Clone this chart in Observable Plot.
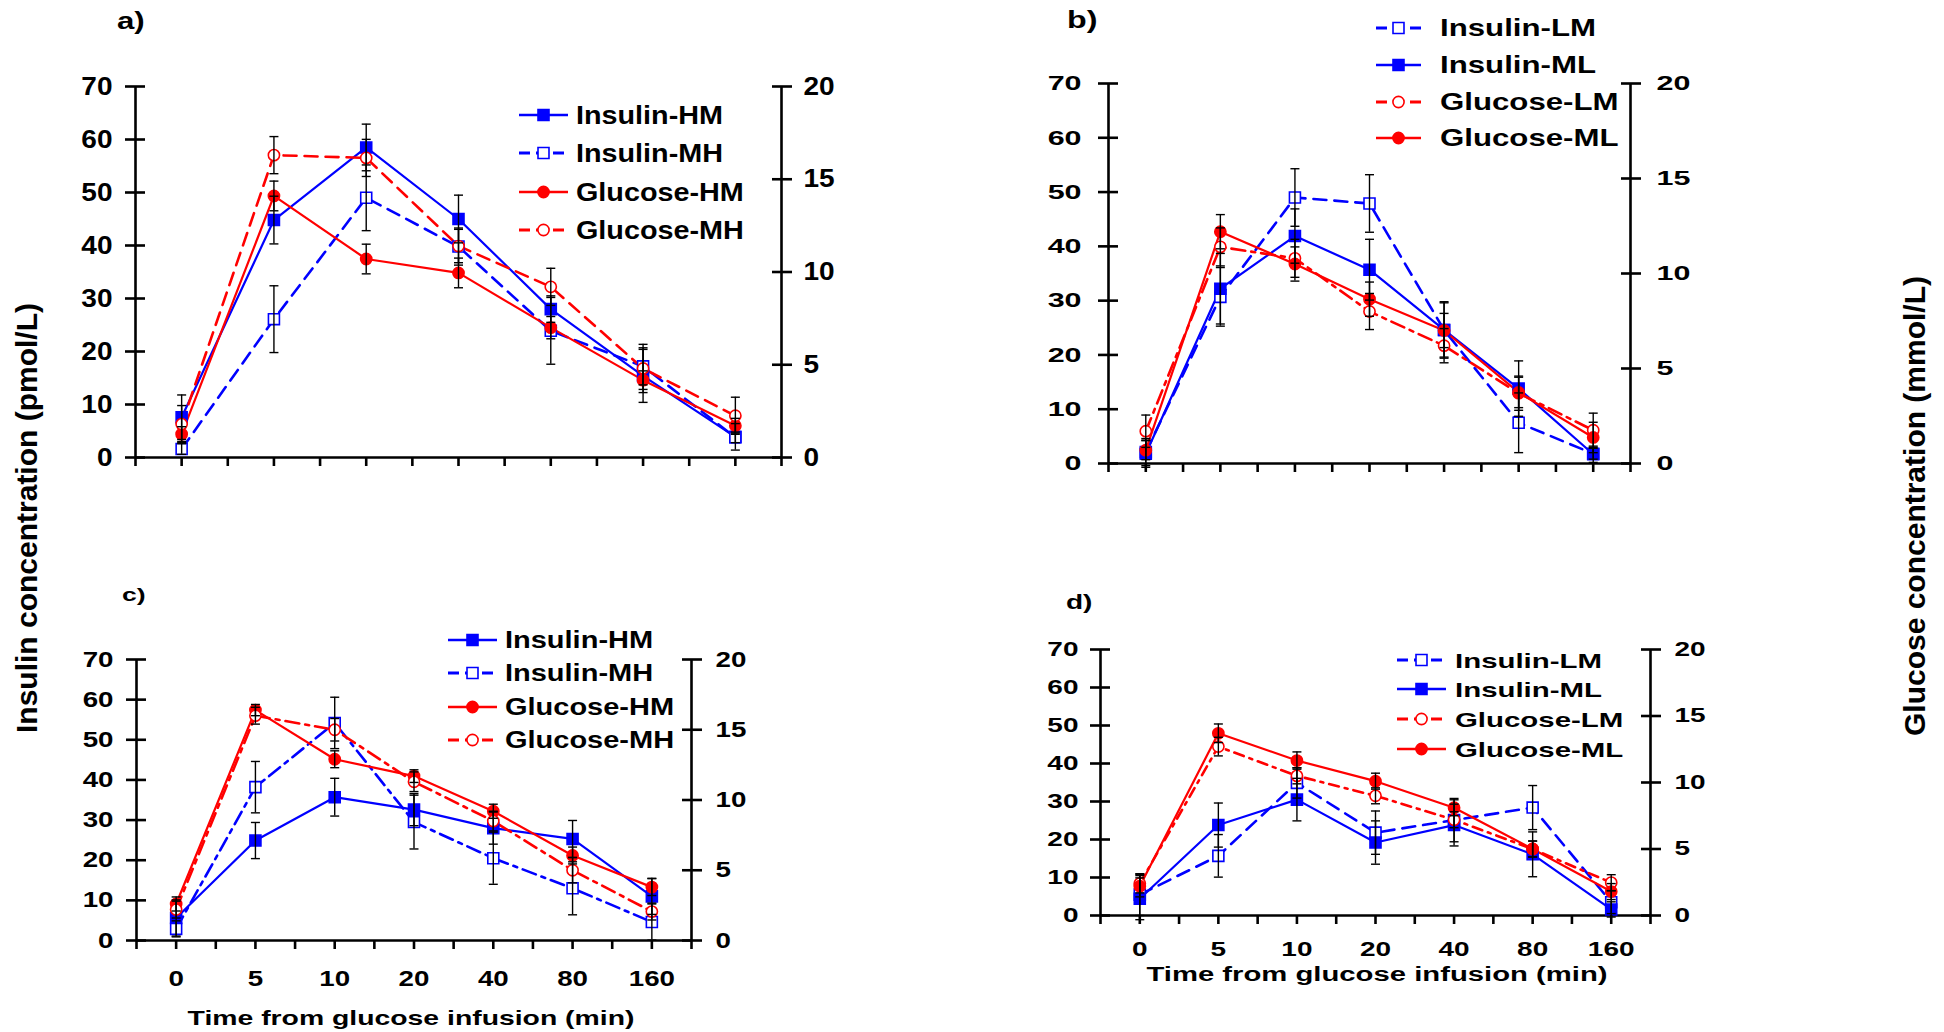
<!DOCTYPE html>
<html><head><meta charset="utf-8">
<script src="https://cdn.jsdelivr.net/npm/d3@7"></script>
<script src="https://cdn.jsdelivr.net/npm/@observablehq/plot@0.6"></script>
<style>
html,body{margin:0;padding:0;background:#fff;}
#root{position:relative;width:1944px;height:1032px;overflow:hidden;font-family:"Liberation Sans",Arial,sans-serif;font-weight:bold;color:#000;background:#fff;}
.abs{position:absolute;white-space:nowrap;line-height:1;}
svg{overflow:visible;}
</style></head><body><div id="root"></div>
<script>
// ---------- categories ----------
const times = ["0","5","10","20","40","80","160"];
const insulinTicks = [0,10,20,30,40,50,60,70];
const glucoseTicks = [0,5,10,15,20];
const xTitle = "Time from glucose infusion (min)";
const yTitleLeft = "Insulin concentration (pmol/L)";
const yTitleRight = "Glucose concentration (mmol/L)";

// ---------- panel a ----------
const aInsulinHM   = [7.6, 44.8, 58.5, 45.0, 28.0, 15.4, 3.9];
const aInsulinHMse = [4.2, 4.5, 4.4, 4.5, 2.5, 5.0, 2.5];
const aInsulinMH   = [1.6, 26.1, 49.0, 39.8, 23.9, 17.2, 3.8];
const aInsulinMHse = [1.0, 6.3, 6.2, 3.5, 6.3, 3.5, 1.0];
const aGlucoseHM   = [1.26, 14.1, 10.7, 9.95, 7.0, 4.17, 1.71];
const aGlucoseHMse = [0.4, 0.8, 0.8, 0.8, 0.6, 0.5, 0.4];
const aGlucoseMH   = [1.8, 16.3, 16.15, 11.4, 9.2, 4.8, 2.25];
const aGlucoseMHse = [1.0, 1.0, 1.0, 0.9, 1.0, 1.3, 1.0];

// ---------- panel b ----------
const bInsulinLM   = [2.1, 30.7, 49.0, 47.9, 24.6, 7.5, 1.8];
const bInsulinLMse = [2.5, 5.4, 5.3, 5.3, 5.2, 5.5, 1.0];
const bInsulinML   = [1.8, 32.2, 41.9, 35.7, 24.6, 13.8, 1.7];
const bInsulinMLse = [2.5, 6.5, 5.0, 5.6, 5.0, 5.1, 1.5];
const bGlucoseLM   = [1.7, 11.4, 10.8, 8.0, 6.2, 3.7, 1.75];
const bGlucoseLMse = [0.85, 1.0, 1.0, 0.95, 0.9, 0.9, 0.9];
const bGlucoseML   = [0.7, 12.2, 10.5, 8.65, 7.0, 3.74, 1.37];
const bGlucoseMLse = [0.5, 0.9, 0.9, 0.9, 0.9, 0.8, 0.8];

// ---------- panel c ----------
const cInsulinHM   = [5.6, 24.9, 35.7, 32.6, 28.0, 25.3, 11.0];
const cInsulinHMse = [4.5, 4.5, 4.7, 4.0, 4.0, 4.6, 4.5];
const cInsulinMH   = [2.9, 38.2, 54.2, 29.5, 20.5, 13.0, 4.6];
const cInsulinMHse = [2.0, 6.4, 6.4, 6.7, 6.5, 6.6, 4.5];
const cGlucoseHM   = [2.6, 16.4, 12.9, 11.7, 9.2, 6.05, 3.8];
const cGlucoseHMse = [0.5, 0.4, 0.6, 0.45, 0.5, 0.6, 0.6];
const cGlucoseMH   = [2.2, 16.0, 15.0, 11.3, 8.5, 5.0, 2.06];
const cGlucoseMHse = [0.6, 0.6, 0.8, 0.7, 0.7, 0.9, 0.6];

// ---------- panel d ----------
const dInsulinLM   = [5.5, 15.7, 34.9, 21.8, 25.1, 28.4, 3.5];
const dInsulinLMse = [5.5, 5.6, 4.0, 5.7, 5.7, 5.8, 3.0];
const dInsulinML   = [4.4, 23.8, 30.5, 19.2, 23.8, 16.1, 1.6];
const dInsulinMLse = [5.5, 5.8, 5.6, 5.7, 5.5, 5.9, 2.0];
const dGlucoseLM   = [2.4, 12.7, 10.5, 9.0, 7.2, 5.0, 2.47];
const dGlucoseLMse = [0.7, 0.7, 0.6, 0.6, 0.6, 0.6, 0.6];
const dGlucoseML   = [2.2, 13.7, 11.65, 10.1, 8.1, 5.0, 1.8];
const dGlucoseMLse = [0.8, 0.7, 0.65, 0.6, 0.6, 0.6, 0.6];

// ---------- styles ----------
const BLUE = "#0000ff", RED = "#ff0000";
const DASH = "13,8", DASHDOT = "14,6,4,6";
const GLU_K = 70 / 20; // glucose axis 0-20 mapped onto insulin axis 0-70

function S(name, kind, values, se, filled, dash){
  return {name, kind, values, se, filled, dash};
}

const panels = [
  {L:135, R:781, T:86, B:457, showX:false,
   tick:{size:25, sx:1.12, padL:13, padR:12}, 
   label:{text:"a)", x:117, base:29, size:24, sx:1.3},
   legend:{x0:519, x1:568, tx:576, rows:[115,153,192,230], size:25, sx:1.15},
   series:[
     S("Insulin-HM","insulin",aInsulinHM,aInsulinHMse,true,null),
     S("Insulin-MH","insulin",aInsulinMH,aInsulinMHse,false,DASH),
     S("Glucose-HM","glucose",aGlucoseHM,aGlucoseHMse,true,null),
     S("Glucose-MH","glucose",aGlucoseMH,aGlucoseMHse,false,DASH)]},
  {L:1108, R:1630, T:83, B:463, showX:false,
   tick:{size:21, sx:1.45, padL:17, padR:16},
   label:{text:"b)", x:1067, base:28, size:23, sx:1.4},
   legend:{x0:1376, x1:1421, tx:1440, rows:[28,65,102,138], size:24, sx:1.3},
   series:[
     S("Insulin-LM","insulin",bInsulinLM,bInsulinLMse,false,DASH),
     S("Insulin-ML","insulin",bInsulinML,bInsulinMLse,true,null),
     S("Glucose-LM","glucose",bGlucoseLM,bGlucoseLMse,false,DASHDOT),
     S("Glucose-ML","glucose",bGlucoseML,bGlucoseMLse,true,null)]},
  {L:136, R:691, T:659, B:940, showX:true, xPad:21,
   tick:{size:22, sx:1.26, padL:13, padR:14},
   label:{text:"c)", x:122, base:601, size:19, sx:1.4},
   legend:{x0:448, x1:497, tx:505, rows:[640,673,707,740], size:23, sx:1.26},
   xTitle:{x:411, y:1017, size:21, sx:1.35},
   series:[
     S("Insulin-HM","insulin",cInsulinHM,cInsulinHMse,true,null),
     S("Insulin-MH","insulin",cInsulinMH,cInsulinMHse,false,DASHDOT),
     S("Glucose-HM","glucose",cGlucoseHM,cGlucoseHMse,true,null),
     S("Glucose-MH","glucose",cGlucoseMH,cGlucoseMHse,false,DASHDOT)]},
  {L:1100, R:1650, T:649, B:915, showX:true, xPad:17,
   tick:{size:20, sx:1.4, padL:12, padR:14},
   label:{text:"d)", x:1066, base:609, size:20, sx:1.4},
   legend:{x0:1397, x1:1446, tx:1455, rows:[660,689,719,749], size:21, sx:1.4},
   xTitle:{x:1377, y:975, size:19.5, sx:1.5},
   series:[
     S("Insulin-LM","insulin",dInsulinLM,dInsulinLMse,false,DASH),
     S("Insulin-ML","insulin",dInsulinML,dInsulinMLse,true,null),
     S("Glucose-LM","glucose",dGlucoseLM,dGlucoseLMse,false,"10,6,3,6"),
     S("Glucose-ML","glucose",dGlucoseML,dGlucoseMLse,true,null)]}
];

const root = document.getElementById("root");
const capSymbol = {draw(ctx, size){ const r = Math.sqrt(size / Math.PI); ctx.moveTo(-r, 0); ctx.lineTo(r, 0); }};

// widen SVG texts horizontally around their anchor, keeping Plot's own transform
function stretchTexts(el, sx){
  el.querySelectorAll("text").forEach(t => {
    if (!t.textContent) return;
    const a = getComputedStyle(t).textAnchor;
    const bb = t.getBBox();
    const ox = a === "end" ? bb.x + bb.width : a === "middle" ? bb.x + bb.width / 2 : bb.x;
    const orig = t.getAttribute("transform") || "";
    t.setAttribute("transform", `${orig} translate(${ox},0) scale(${sx},1) translate(${-ox},0)`);
  });
}

function addText(text, {x, y, size, sx = 1, anchor = "start", base = null}){
  const d = document.createElement("div");
  d.className = "abs";
  d.textContent = text;
  d.style.fontSize = size + "px";
  d.style.left = x + "px";
  const top = base != null ? base - 0.8465 * size : y - 0.488 * size;
  d.style.top = top + "px";
  const tx = anchor === "middle" ? "translateX(-50%) " : "";
  d.style.transformOrigin = anchor === "middle" ? "50% 50%" : "0% 50%";
  d.style.transform = `${tx}scaleX(${sx})`;
  root.appendChild(d);
  return d;
}

function colorOf(s){ return s.kind === "glucose" ? RED : BLUE; }
function symbolOf(s){ return s.kind === "glucose" ? "circle" : "square"; }
function rOf(s){ return s.kind === "glucose" ? 5.6 : 6.2; }

function drawPanel(p){
  const mL = 150, mR = 150, mT = 30, mB = 70;
  const width = (p.R - p.L) + mL + mR;
  const height = (p.B - p.T) + mT + mB;
  const marks = [];
  marks.push(Plot.ruleX([-0.5, 6.5], {stroke: "black", strokeWidth: 2.6}));
  marks.push(Plot.ruleY([0], {stroke: "black", strokeWidth: 2.6}));
  const allData = p.series.map(s => {
    const k = s.kind === "glucose" ? GLU_K : 1;
    return s.values.map((v, i) => ({i, v: v * k, lo: (v - s.se[i]) * k, hi: (v + s.se[i]) * k}));
  });
  p.series.forEach((s, j) => {
    marks.push(Plot.line(allData[j], {x: "i", y: "v", stroke: colorOf(s), strokeWidth: s.dash ? 2.6 : 2.2,
      strokeDasharray: s.dash || undefined}));
  });
  p.series.forEach((s, j) => {
    marks.push(Plot.dot(allData[j], {x: "i", y: "v", symbol: symbolOf(s), r: rOf(s),
      fill: s.filled ? colorOf(s) : "white", stroke: colorOf(s), strokeWidth: 1.6}));
  });
  p.series.forEach((s, j) => {
    const data = allData[j];
    marks.push(Plot.ruleX(data, {x: "i", y1: "lo", y2: "hi", stroke: "black", strokeWidth: 1.4}));
    marks.push(Plot.dot(data, {x: "i", y: "lo", symbol: capSymbol, r: 4.5, stroke: "black", fill: "none", strokeWidth: 1.4}));
    marks.push(Plot.dot(data, {x: "i", y: "hi", symbol: capSymbol, r: 4.5, stroke: "black", fill: "none", strokeWidth: 1.4}));
  });
  marks.push(Plot.axisY({anchor: "left", ticks: insulinTicks, tickSize: 20, dx: 10, tickPadding: p.tick.padL,
    tickFormat: d => String(d), label: null, strokeWidth: 2.6}));
  marks.push(Plot.axisY({anchor: "right", ticks: glucoseTicks.map(g => g * GLU_K), tickSize: 20, dx: -10,
    tickPadding: p.tick.padR, tickFormat: d => String(Math.round(d / GLU_K)), label: null, strokeWidth: 2.6}));
  marks.push(Plot.axisX({anchor: "bottom", ticks: d3.range(-0.5, 6.51, 0.5), tickSize: 9,
    tickPadding: p.xPad || 3, tickFormat: d => (p.showX && Number.isInteger(d)) ? times[d] : "",
    label: null, strokeWidth: 2.6}));

  const svg = Plot.plot({
    width, height, marginLeft: mL, marginRight: mR, marginTop: mT, marginBottom: mB,
    x: {type: "linear", domain: [-0.5, 6.5]},
    y: {type: "linear", domain: [0, 70]},
    style: {fontFamily: '"Liberation Sans", Arial, sans-serif', fontWeight: "bold",
      fontSize: p.tick.size + "px", color: "black", background: "transparent", overflow: "visible", maxWidth: "none"},
    marks
  });
  const wrap = document.createElement("div");
  wrap.style.position = "absolute";
  wrap.style.left = (p.L - mL) + "px";
  wrap.style.top = (p.T - mT) + "px";
  wrap.appendChild(svg);
  root.appendChild(wrap);
  stretchTexts(svg, p.tick.sx);

  addText(p.label.text, {x: p.label.x, base: p.label.base, size: p.label.size, sx: p.label.sx});

  const lg = p.legend;
  p.series.forEach((s, j) => {
    const yc = lg.rows[j];
    const w = lg.x1 - lg.x0, h = 20;
    const sw = d3.create("svg").attr("width", w).attr("height", h)
      .style("position", "absolute").style("left", lg.x0 + "px").style("top", (yc - h / 2) + "px");
    sw.append("line").attr("x1", 0).attr("x2", w).attr("y1", h / 2).attr("y2", h / 2)
      .attr("stroke", colorOf(s)).attr("stroke-width", s.dash ? 2.8 : 2.4)
      .attr("stroke-dasharray", s.dash ? "11,6" : null);
    const sym = d3.symbol(s.kind === "glucose" ? d3.symbolCircle : d3.symbolSquare, Math.PI * rOf(s) ** 2)();
    sw.append("path").attr("d", sym).attr("transform", `translate(${w / 2},${h / 2})`)
      .attr("fill", s.filled ? colorOf(s) : "white").attr("stroke", colorOf(s)).attr("stroke-width", 1.6);
    root.appendChild(sw.node());
    addText(s.name, {x: lg.tx, y: yc, size: lg.size, sx: lg.sx});
  });

  if (p.xTitle) addText(xTitle, {x: p.xTitle.x, y: p.xTitle.y, size: p.xTitle.size, sx: p.xTitle.sx, anchor: "middle"});
}

panels.forEach(drawPanel);

function addRotated(text, xc, yc, size){
  const d = document.createElement("div");
  d.className = "abs";
  d.textContent = text;
  d.style.fontSize = size + "px";
  d.style.left = xc + "px";
  d.style.top = yc + "px";
  d.style.transform = "translate(-50%,-50%) rotate(-90deg)";
  root.appendChild(d);
}
addRotated(yTitleLeft, 27, 518, 30);
addRotated(yTitleRight, 1915, 506, 30);
</script>
</body></html>
